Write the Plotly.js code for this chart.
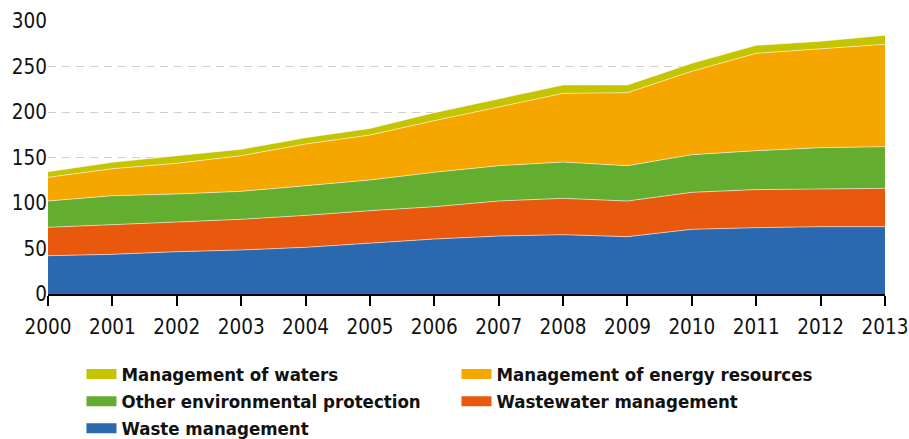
<!DOCTYPE html>
<html>
<head>
<meta charset="utf-8">
<script src="https://cdn.plot.ly/plotly-3.0.1.min.js"></script>
<style>html,body{margin:0;padding:0;background:#fff;}#chart{width:909px;height:439px;}</style>
</head>
<body>
<div id="chart"></div>
<script>
var years = [2000, 2001, 2002, 2003, 2004, 2005, 2006, 2007, 2008, 2009, 2010, 2011, 2012, 2013];
var wasteManagement = [42.1, 43.6, 46.5, 48.4, 51.3, 55.7, 60.4, 63.7, 65.2, 63.0, 71.1, 72.9, 74.0, 74.0];
var wastewaterManagement = [31.2, 32.2, 32.6, 33.7, 35.1, 35.9, 35.5, 38.5, 39.9, 39.2, 40.6, 41.8, 41.4, 42.1];
var otherEnvironmental = [28.9, 32.2, 30.8, 30.7, 32.6, 33.7, 37.8, 38.8, 39.9, 38.8, 41.4, 42.8, 45.4, 45.8];
var energyResources = [26.0, 29.7, 33.7, 39.2, 45.8, 49.4, 56.8, 64.8, 75.5, 80.2, 91.6, 107.0, 108.4, 112.5];
var managementWaters = [6.2, 7.0, 8.4, 7.0, 7.0, 7.3, 8.8, 8.8, 9.2, 8.5, 8.8, 8.8, 8.5, 9.9];
var yTicks = [0, 50, 100, 150, 200, 250, 300];

var seriesNames = ["Waste management", "Wastewater management", "Other environmental protection", "Management of energy resources", "Management of waters"];
var seriesValues = [wasteManagement, wastewaterManagement, otherEnvironmental, energyResources, managementWaters];
var seriesColors = ["#2A69B0", "#E8590D", "#63AD30", "#F5A700", "#C4C400"];

var traces = [];
for (var i = 0; i < seriesNames.length; i++) {
  traces.push({
    x: years, y: seriesValues[i], name: seriesNames[i],
    type: "scatter", mode: "lines", stackgroup: "one",
    fillcolor: seriesColors[i],
    line: {color: "rgba(255,255,255,0.55)", width: 1},
    showlegend: false, hoverinfo: "skip"
  });
}
for (var j = 0; j < seriesNames.length; j++) {
  traces.push({
    x: [null], y: [null], name: seriesNames[j],
    type: "scatter", mode: "lines",
    line: {color: seriesColors[j], width: 16},
    showlegend: true, hoverinfo: "skip"
  });
}

var layout = {
  width: 909, height: 439,
  margin: {l: 48, r: 24, t: 21, b: 145},
  paper_bgcolor: "#fff", plot_bgcolor: "#fff",
  font: {family: "DejaVu Sans Condensed, sans-serif", color: "#111", size: 19},
  xaxis: {
    range: [2000, 2013], tickvals: years, ticktext: years.map(String),
    showgrid: false, zeroline: false,
    showline: true, linecolor: "#000", linewidth: 2,
    ticks: "outside", ticklen: 10, tickwidth: 2, tickcolor: "#000",
    tickfont: {size: 20.5, color: "#111"}, ticklabelstandoff: 3
  },
  yaxis: {
    range: [0, 300], tickvals: yTicks,
    showgrid: true, gridcolor: "#cfcfcf", gridwidth: 1, griddash: "8px,6px",
    zeroline: false, showline: false, ticks: "",
    tickfont: {size: 20.5, color: "#111"}, ticklabelstandoff: 0
  },
  legend: {
    orientation: "h", xref: "paper", x: 0.04, xanchor: "left",
    yref: "container", y: 0.19, yanchor: "top",
    traceorder: "reversed", entrywidth: 330, entrywidthmode: "pixels",
    font: {family: "DejaVu Sans Condensed, sans-serif", size: 18.5, color: "#111", weight: "bold"},
    itemclick: false, itemdoubleclick: false, tracegroupgap: 0
  },
  showlegend: true
};

Plotly.newPlot("chart", traces, layout, {staticPlot: true, displayModeBar: false});
</script>
</body>
</html>
